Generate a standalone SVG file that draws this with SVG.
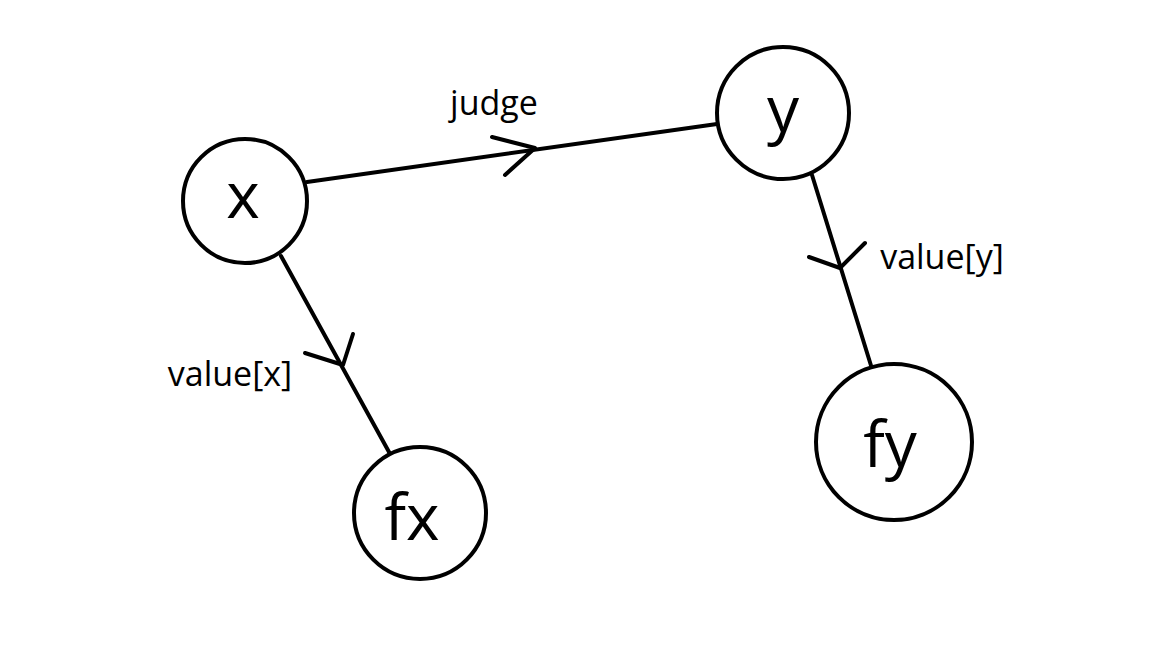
<svg xmlns="http://www.w3.org/2000/svg" width="1152" height="648" viewBox="0 0 1152 648">
<style>
.n{fill:#fff;stroke:#000;stroke-width:4}
.t{font-family:"Open Sans","Noto Sans",sans-serif;font-size:64px;text-anchor:middle;fill:#000}
.l{font-family:"Open Sans","Noto Sans",sans-serif;font-size:34px;text-anchor:middle;fill:#000}
.e{stroke:#000;stroke-width:4;fill:none;stroke-linecap:round;stroke-linejoin:round}
</style>
<rect width="1152" height="648" fill="#fff"/>
<g id="connectors">
<path class="e" d="M307 182 L717 124"/>
<path class="e" d="M492 137 L535 148 L505 175"/>
<path class="e" d="M281 256 L389 452"/>
<path class="e" d="M305 353 L343 365 L353 334"/>
<path class="e" d="M812 175 L873 372"/>
<path class="e" d="M809 257 L840 268 L865 243"/>
<text class="l" x="494" y="115">judge</text>
<text class="l" x="230" y="386">value[x]</text>
<text class="l" x="942" y="269">value[y]</text>
</g>
<g id="node-x"><circle class="n" cx="245" cy="201" r="62"/><text class="t" x="243" y="218">x</text></g>
<g id="node-y"><circle class="n" cx="783" cy="113" r="66"/><text class="t" x="783" y="132">y</text></g>
<g id="node-fx"><circle class="n" cx="420" cy="513" r="66"/><text class="t" x="412" y="540">fx</text></g>
<g id="node-fy"><circle class="n" cx="894" cy="442" r="78"/><text class="t" x="890" y="467">fy</text></g>
</svg>
